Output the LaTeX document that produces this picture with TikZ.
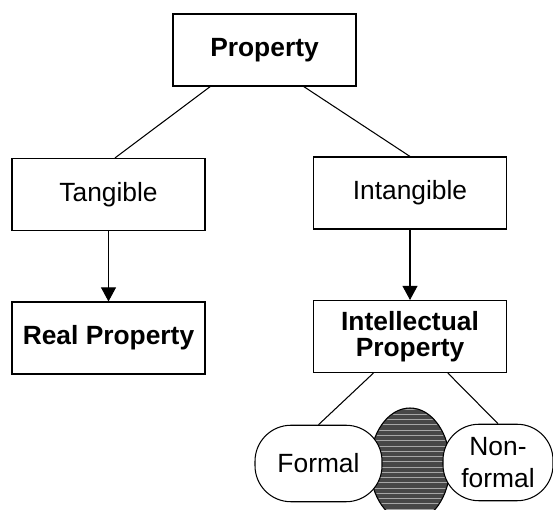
\documentclass[tikz,border=0pt]{standalone}
\usepackage{xcolor}
\usepackage{fontspec}
\setmainfont{Liberation Sans}
\usetikzlibrary{arrows.meta,patterns}

\begin{document}
\begin{tikzpicture}[
        box/.style={draw, fill=white, line width=0.6pt, minimum width=3.86cm, minimum height=1.44cm,
                    align=center, font=\fontsize{15}{15}\selectfont},
        oval/.style={box, rounded corners=0.72cm, minimum height=1.53cm},
        link/.style={line width=0.6pt},
        arrow/.style={link, -{Triangle[width=8.5pt,length=8pt]}}
    ]
                \useasboundingbox (0,0) rectangle (11.06,10.2);

                \node[box, minimum width=3.66cm] (prop) at (5.29,9.2) {\textbf{Property}};

                \node[box] (tang) at (2.17,6.31) {Tangible};
                \node[box] (intang) at (8.2,6.34) {Intangible};

                \node[box] (real) at (2.17,3.44) {\textbf{Real Property}};
                \node[box] (intel) at (8.2,3.47) {\textbf{Intellectual}\\\textbf{Property}};

                % overlap between the two kinds
                \filldraw[fill=black!72, line width=0.6pt] (8.2,0.9) ellipse (0.8cm and 1.14cm);
                \fill[pattern=horizontal lines, pattern color=black!35] (8.2,0.9) ellipse (0.78cm and 1.12cm);

                \node[oval, minimum width=2.54cm] (formal) at (6.37,0.93) {Formal};
                \node[oval, minimum width=2.2cm] (nonformal) at (9.96,0.95) {Non-\\[3pt]formal};

                \draw[link] (prop.214) -- (tang.80);
                \draw[link] (prop.317) -- (intang.north);

                \draw[arrow] (tang.south) -- (real.north);
                \draw[arrow] (intang.south) -- (intel.north);

                \draw[link] (intel.225) -- (formal.north);
                \draw[link] (intel.316) -- (nonformal.north);
            \end{tikzpicture}
\end{document}
